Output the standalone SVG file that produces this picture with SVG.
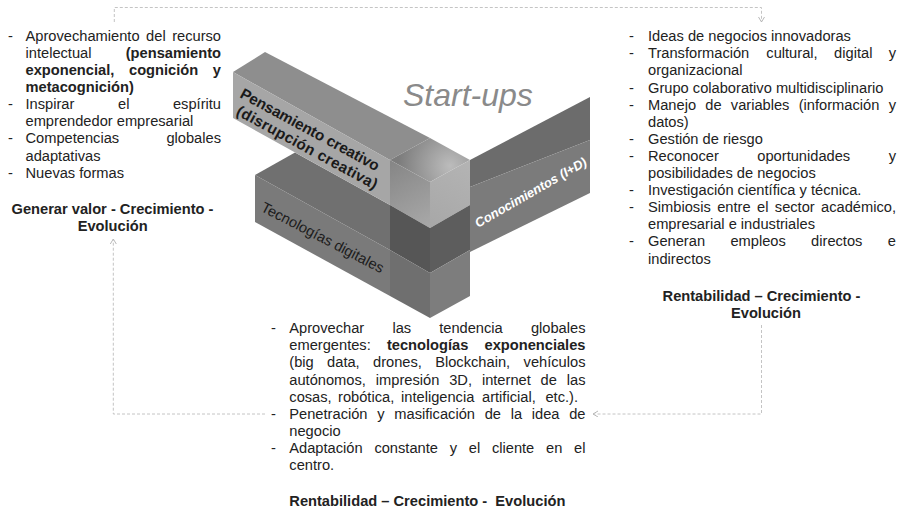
<svg xmlns="http://www.w3.org/2000/svg" width="901" height="509" viewBox="0 0 901 509">
<defs>
<style>
.t{font-family:"Liberation Sans",Arial,sans-serif;font-size:14.67px;fill:#222222}
.b{font-weight:bold}
.e{text-anchor:end}
.m{text-anchor:middle}
.con{fill:none;stroke:#c4c4c4;stroke-width:1;stroke-dasharray:3 2}
</style>
<marker id="arr" markerUnits="userSpaceOnUse" markerWidth="10" markerHeight="10" refX="5" refY="3" orient="auto">
<path d="M0,0 L5,3 L0,6" fill="none" stroke="#b8b8b8" stroke-width="1"/>
</marker>
<radialGradient id="cubeTop" cx="450" cy="166" r="52" gradientUnits="userSpaceOnUse">
<stop offset="0" stop-color="#bcbcbc"/>
<stop offset="1" stop-color="#7c7c7c"/>
</radialGradient>
<linearGradient id="cubeLeft" x1="390" y1="160" x2="430" y2="228" gradientUnits="userSpaceOnUse">
<stop offset="0" stop-color="#858585"/>
<stop offset="1" stop-color="#a9a9a9"/>
</linearGradient>
<linearGradient id="cubeRight" x1="430" y1="228" x2="470" y2="160" gradientUnits="userSpaceOnUse">
<stop offset="0" stop-color="#a7a7a7"/>
<stop offset="1" stop-color="#b4b4b4"/>
</linearGradient>
</defs>
<rect width="901" height="509" fill="#ffffff"/>

<g id="connectors">
<path class="con" d="M114.3,22 V7.5 H761.5 V22" marker-end="url(#arr)"/>
<path class="con" d="M761.5,325 V414 H593" marker-end="url(#arr)"/>
<path class="con" d="M265,414 H113.3 V239" marker-end="url(#arr)"/>
</g>

<g id="tecnologias">
<polygon points="255,175 295,152.5 390,205 390,250" fill="#707070"/>
<polygon points="255,175 390,250 390,296 255,222" fill="#7a7a7a"/>
<text class="t" transform="translate(260,210.5) rotate(27.5)" style="fill:#1c1c1c">Tecnologías digitales</text>
</g>

<g id="pensamiento">
<polygon points="233,72 265,52 430,138 390,160" fill="#8e8e8e"/>
<polygon points="233,72 390,160 390,205 233,118" fill="#a6a6a6"/>
<text class="t b" transform="translate(239,97) rotate(28.5)" style="font-size:15.3px;fill:#1a1a1a"><tspan x="0" y="0" textLength="156" lengthAdjust="spacing">Pensamiento creativo</tspan><tspan x="5" y="17" textLength="158" lengthAdjust="spacing">(disrupción creativa)</tspan></text>
</g>

<g id="cube">
<polygon points="390,160 430,138 470,160 430,182" fill="url(#cubeTop)"/>
<polygon points="390,160 430,182 430,228 390,205" fill="url(#cubeLeft)"/>
<polygon points="430,182 470,160 470,205 430,228" fill="url(#cubeRight)"/>
<polygon points="390,205 430,228 430,273 390,250" fill="#565656"/>
<polygon points="430,228 470,205 470,250 430,273" fill="#5d5d5d"/>
<polygon points="390,250 430,273 430,318 390,296" fill="#6f6f6f"/>
<polygon points="430,273 470,250 470,296 430,318" fill="#7d7d7d"/>
</g>

<g id="conocimientos">
<polygon points="470,160 590,97 590,140 470,187" fill="#6c6c6c"/>
<polygon points="470,187 590,140 590,193 470,252" fill="#7b7b7b"/>
<text class="t b" transform="translate(478,228) rotate(-30)" style="font-size:13px;font-style:italic;fill:#ffffff">Conocimientos (I+D)</text>
</g>

<g id="title">
<text x="403" y="106" style="font-family:'Liberation Sans',Arial,sans-serif;font-size:32px;font-style:italic;fill:#8a8a8a">Start-ups</text>
</g>

<g id="left-text">
<text class="t" x="8" y="40.8">-</text>
<text class="t" y="40.8"><tspan x="25.5">Aprovechamiento</tspan><tspan x="146.1">del</tspan></text>
<text class="t e" x="221" y="40.8">recurso</text>
<text class="t" x="25.5" y="57.9">intelectual</text>
<text class="t b e" x="221" y="57.9">(pensamiento</text>
<text class="t b" y="75"><tspan x="25.5">exponencial,</tspan><tspan x="129">cognición</tspan></text>
<text class="t b e" x="221" y="75">y</text>
<text class="t b" x="25.5" y="92.1">metacognición)</text>
<text class="t" x="8" y="109.2">-</text>
<text class="t" y="109.2"><tspan x="25.5">Inspirar</tspan><tspan x="118">el</tspan></text>
<text class="t e" x="221" y="109.2">espíritu</text>
<text class="t" x="25.5" y="126.3">emprendedor empresarial</text>
<text class="t" x="8" y="143.4">-</text>
<text class="t" x="25.5" y="143.4">Competencias</text>
<text class="t e" x="221" y="143.4">globales</text>
<text class="t" x="25.5" y="160.5">adaptativas</text>
<text class="t" x="8" y="177.6">-</text>
<text class="t" x="25.5" y="177.6">Nuevas formas</text>
<text class="t b m" x="112.5" y="213.5">Generar valor - Crecimiento -</text>
<text class="t b m" x="112.7" y="230.5">Evolución</text>
</g>

<g id="right-text">
<text class="t" x="629" y="41.2">-</text>
<text class="t" x="648" y="41.2">Ideas de negocios innovadoras</text>
<text class="t" x="629" y="58.3">-</text>
<text class="t" y="58.3"><tspan x="648">Transformación</tspan><tspan x="766.3">cultural,</tspan><tspan x="834.1">digital</tspan></text>
<text class="t e" x="896" y="58.3">y</text>
<text class="t" x="648" y="75.4">organizacional</text>
<text class="t" x="629" y="92.5">-</text>
<text class="t" x="648" y="92.5">Grupo colaborativo multidisciplinario</text>
<text class="t" x="629" y="109.6">-</text>
<text class="t" y="109.6"><tspan x="648">Manejo</tspan><tspan x="705.3">de</tspan><tspan x="730.8">variables</tspan><tspan x="798.7">(información</tspan></text>
<text class="t e" x="896" y="109.6">y</text>
<text class="t" x="648" y="126.7">datos)</text>
<text class="t" x="629" y="143.8">-</text>
<text class="t" x="648" y="143.8">Gestión de riesgo</text>
<text class="t" x="629" y="160.9">-</text>
<text class="t" y="160.9"><tspan x="648">Reconocer</tspan><tspan x="757.3">oportunidades</tspan></text>
<text class="t e" x="896" y="160.9">y</text>
<text class="t" x="648" y="178">posibilidades de negocios</text>
<text class="t" x="629" y="195.1">-</text>
<text class="t" x="648" y="195.1">Investigación científica y técnica.</text>
<text class="t" x="629" y="212.2">-</text>
<text class="t" y="212.2"><tspan x="648">Simbiosis</tspan><tspan x="717.2">entre</tspan><tspan x="757">el</tspan><tspan x="774.8">sector</tspan></text>
<text class="t e" x="896" y="212.2">académico,</text>
<text class="t" x="648" y="229.3">empresarial e industriales</text>
<text class="t" x="629" y="246.4">-</text>
<text class="t" y="246.4"><tspan x="648">Generan</tspan><tspan x="730.4">empleos</tspan><tspan x="811.1">directos</tspan></text>
<text class="t e" x="896" y="246.4">e</text>
<text class="t" x="648" y="263.5">indirectos</text>
<text class="t b m" x="761.5" y="300.5">Rentabilidad – Crecimiento -</text>
<text class="t b m" x="766" y="317.5">Evolución</text>
</g>

<g id="bottom-text">
<text class="t" x="271" y="333.2">-</text>
<text class="t" y="333.2"><tspan x="289.3">Aprovechar</tspan><tspan x="392.4">las</tspan><tspan x="439.2">tendencia</tspan></text>
<text class="t e" x="585.5" y="333.2">globales</text>
<text class="t" x="289.3" y="350.3">emergentes:</text>
<text class="t b" x="386.9" y="350.3">tecnologías</text>
<text class="t b e" x="585.5" y="350.3">exponenciales</text>
<text class="t" y="367.4"><tspan x="289.3">(big</tspan><tspan x="327.1">data,</tspan><tspan x="373">drones,</tspan><tspan x="435.2">Blockchain,</tspan></text>
<text class="t e" x="585.5" y="367.4">vehículos</text>
<text class="t" y="384.5"><tspan x="289.3">autónomos,</tspan><tspan x="375.8">impresión</tspan><tspan x="449.2">3D,</tspan><tspan x="481.9">internet</tspan><tspan x="540.6">de</tspan></text>
<text class="t e" x="585.5" y="384.5">las</text>
<text class="t" y="401.6"><tspan x="289.3">cosas,</tspan><tspan x="338">robótica,</tspan><tspan x="401">inteligencia</tspan><tspan x="482">artificial,</tspan></text>
<text class="t e" x="578" y="401.6">etc.).</text>
<text class="t" x="271" y="418.7">-</text>
<text class="t" y="418.7"><tspan x="289.3">Penetración</tspan><tspan x="377.3">y</tspan><tspan x="394.3">masificación</tspan><tspan x="484.7">de</tspan><tspan x="510.7">la</tspan><tspan x="531.8">idea</tspan></text>
<text class="t e" x="585.5" y="418.7">de</text>
<text class="t" x="289.3" y="435.8">negocio</text>
<text class="t" x="271" y="452.9">-</text>
<text class="t" y="452.9"><tspan x="289.3">Adaptación</tspan><tspan x="374.4">constante</tspan><tspan x="449.8">y</tspan><tspan x="468.8">el</tspan><tspan x="491.9">cliente</tspan><tspan x="546">en</tspan></text>
<text class="t e" x="585.5" y="452.9">el</text>
<text class="t" x="289.3" y="470">centro.</text>
<text class="t b" x="289.3" y="505.5" xml:space="preserve">Rentabilidad – Crecimiento -  Evolución</text>
</g>
</svg>
